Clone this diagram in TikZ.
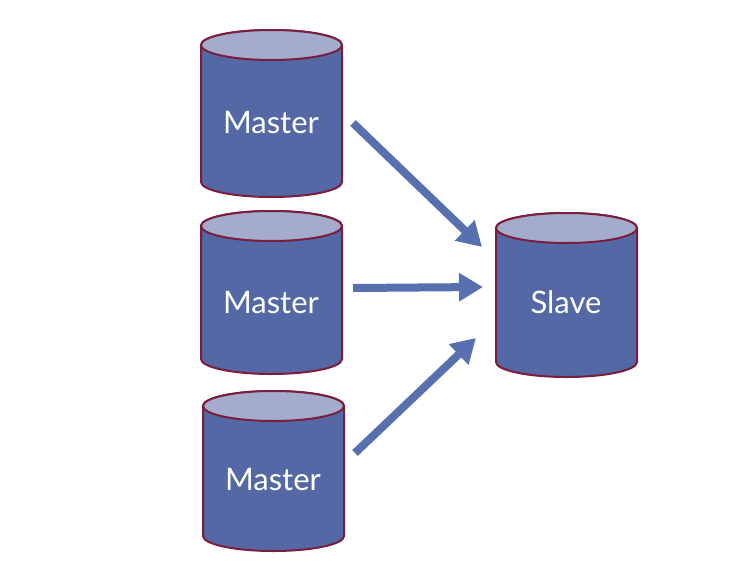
\documentclass[tikz,border=0pt]{standalone}
\usepackage{fontspec}
\setmainfont{Lato}
\usetikzlibrary{arrows.meta,calc}
\definecolor{bodyc}{RGB}{84,104,166}
\definecolor{topc}{RGB}{164,172,206}
\definecolor{edgec}{RGB}{122,30,60}
\definecolor{arrowc}{RGB}{88,112,176}
\newcommand\dbcyl[1]{%
  \draw[cylbody] (-70.5,0) -- (-70.5,#1) arc[start angle=180,end angle=0,x radius=70.5,y radius=15] -- (70.5,0) arc[start angle=0,end angle=-180,x radius=70.5,y radius=15] -- cycle;
  \draw[cyltop] (0,0) ellipse[x radius=70.5,y radius=15];}
\begin{document}
\begin{tikzpicture}[x=1pt,y=-1pt,
  cylbody/.style={fill=bodyc,draw=edgec,line width=2pt},
  cyltop/.style={fill=topc,draw=edgec,line width=2pt},
  label/.style={text=white,font=\fontsize{31}{35}\selectfont,inner sep=0pt},
  flow/.style={draw=arrowc,line width=8pt,-{Triangle[length=24pt,width=27pt]}}]
\useasboundingbox[fill=white] (0,0) rectangle (732,574);
\begin{scope}[shift={(271.5,45)}]\dbcyl{137}\end{scope}
\begin{scope}[shift={(271.5,226)}]\dbcyl{133}\end{scope}
\begin{scope}[shift={(273.5,406)}]\dbcyl{130}\end{scope}
\begin{scope}[shift={(566.5,228)}]\dbcyl{134}\end{scope}
\node[label] (m1) at (271,123) {Master};
\node[label] (m2) at (271,303) {Master};
\node[label] (m3) at (273,480) {Master};
\node[label] (s) at (566,302) {Slave};
\draw[flow] ($(m1)+(82,0)$) -- ($(s)+(-84,-55)$);
\draw[flow] ($(m2)+(82,-15)$) -- ($(s)+(-83,-15)$);
\draw[flow] ($(m3)+(82,-27)$) -- ($(s)+(-90,36)$);
\end{tikzpicture}
\end{document}
